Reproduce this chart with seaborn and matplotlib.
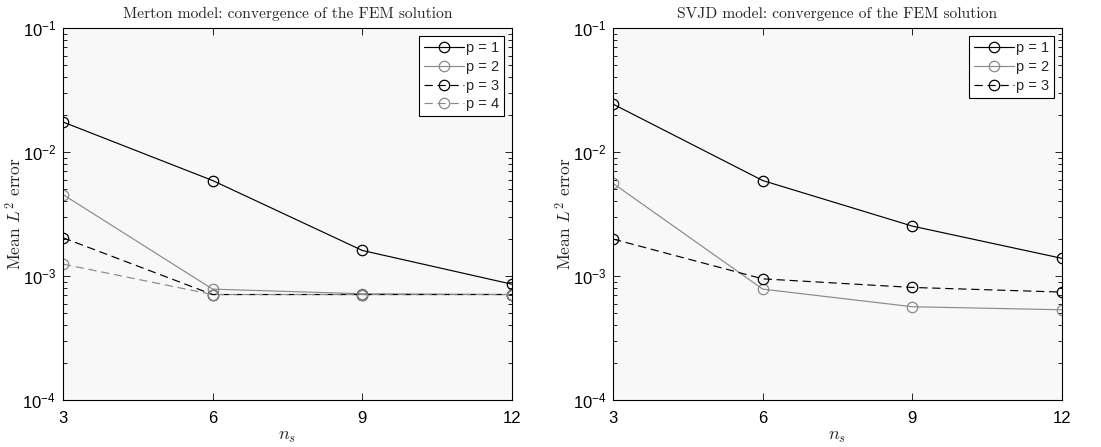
import numpy as np
import pandas as pd
import matplotlib
matplotlib.use("Agg")
import matplotlib.pyplot as plt
import seaborn as sns
from matplotlib.ticker import LogLocator, FixedLocator, FuncFormatter, NullFormatter

# ---------------- data ----------------
ns = [3, 6, 9, 12]

merton_p1 = [1.75e-2, 5.9e-3, 1.61e-3, 8.6e-4]
merton_p2 = [4.55e-3, 7.85e-4, 7.2e-4, 7.1e-4]
merton_p3 = [2.04e-3, 7.1e-4, 7.1e-4, 7.1e-4]
merton_p4 = [1.25e-3, 7.1e-4, 7.1e-4, 7.1e-4]

svjd_p1 = [2.44e-2, 5.9e-3, 2.53e-3, 1.39e-3]
svjd_p2 = [5.6e-3, 7.85e-4, 5.66e-4, 5.35e-4]
svjd_p3 = [1.99e-3, 9.5e-4, 8.1e-4, 7.43e-4]

series_labels = ["p = 1", "p = 2", "p = 3", "p = 4"]
titles = ["Merton model: convergence of the FEM solution",
          "SVJD model: convergence of the FEM solution"]
ytick_vals = [1e-4, 1e-3, 1e-2, 1e-1]

def to_long(series_list):
    rows = []
    for lab, vals in zip(series_labels, series_list):
        for x, v in zip(ns, vals):
            rows.append({"ns": x, "err": v, "p": lab})
    return pd.DataFrame(rows)

df_merton = to_long([merton_p1, merton_p2, merton_p3, merton_p4])
df_svjd = to_long([svjd_p1, svjd_p2, svjd_p3])

# ---------------- style ----------------
sns.set_theme(style="ticks")
plt.rcParams["font.family"] = ["Liberation Sans", "DejaVu Sans"]
plt.rcParams["mathtext.fontset"] = "custom"
plt.rcParams["mathtext.rm"] = "Liberation Sans"
plt.rcParams["mathtext.it"] = "Liberation Sans:italic"
plt.rcParams["mathtext.bf"] = "Liberation Sans:bold"

GREY = "#8a8a8a"
palette = {"p = 1": "black", "p = 2": GREY, "p = 3": "black", "p = 4": GREY}
dashes = {"p = 1": "", "p = 2": "", "p = 3": (7, 4), "p = 4": (7, 4)}

fig = plt.figure(figsize=(11.01, 4.47), dpi=100)
ax1 = fig.add_axes([0.0572, 0.105, 0.4078, 0.832])
ax2 = fig.add_axes([0.5568, 0.105, 0.4078, 0.832])

for ax, df, title in [(ax1, df_merton, titles[0]), (ax2, df_svjd, titles[1])]:
    ax.set_facecolor("#f8f8f8")
    keys = list(df["p"].unique())
    sns.lineplot(data=df, x="ns", y="err", hue="p", style="p",
                 palette={k: palette[k] for k in keys},
                 dashes={k: dashes[k] for k in keys},
                 markers={k: "o" for k in keys},
                 markersize=7.5, markerfacecolor="none", markeredgewidth=0.9,
                 linewidth=0.85, ax=ax)
    for line in ax.get_lines():
        line.set_markeredgecolor(line.get_color())
        line.set_markerfacecolor("none")
    ax.set_yscale("log")
    ax.set_xlim(3, 12)
    ax.set_ylim(1e-4, 1e-1)
    ax.xaxis.set_major_locator(FixedLocator(ns))
    ax.yaxis.set_major_locator(FixedLocator(ytick_vals))
    ax.yaxis.set_minor_locator(LogLocator(base=10, subs=np.arange(2, 10)))
    ax.yaxis.set_minor_formatter(NullFormatter())
    ax.yaxis.set_major_formatter(FuncFormatter(
        lambda v, pos: r"$10^{%d}$" % int(round(np.log10(v)))))
    ax.tick_params(axis="both", which="both", direction="in",
                   top=True, right=True, labelsize=12, colors="black", width=0.6)
    ax.tick_params(axis="both", which="major", length=5)
    ax.tick_params(axis="x", which="major", pad=8)
    ax.tick_params(axis="y", which="major", pad=5)
    ax.tick_params(axis="y", which="minor", length=3)
    for s in ax.spines.values():
        s.set_linewidth(0.8)
        s.set_color("black")
    ax.set_title(title, fontfamily="cmr10", fontsize=11.2, pad=7)
    ax.set_xlabel(r"$n_s$", fontsize=13, math_fontfamily="cm", labelpad=1)
    ax.set_ylabel(r"Mean $L^2$ error", fontfamily="cmr10", fontsize=12.5,
                  math_fontfamily="cm")
    ax.yaxis.set_label_coords(-0.085, 0.5)
    leg = ax.legend(loc="upper right", frameon=True, fancybox=False,
                    edgecolor="black", framealpha=1, facecolor="white",
                    fontsize=10.5, handlelength=2.7, handletextpad=0.15,
                    labelspacing=0.32, borderpad=0.35, borderaxespad=0.55,
                    title=None)
    leg.get_frame().set_linewidth(0.8)
    for h in leg.get_lines():
        h.set_markerfacecolor("none")
        h.set_markeredgecolor(h.get_color())
        h.set_linewidth(0.85)

fig.savefig("out.png", dpi=100, facecolor="white")
